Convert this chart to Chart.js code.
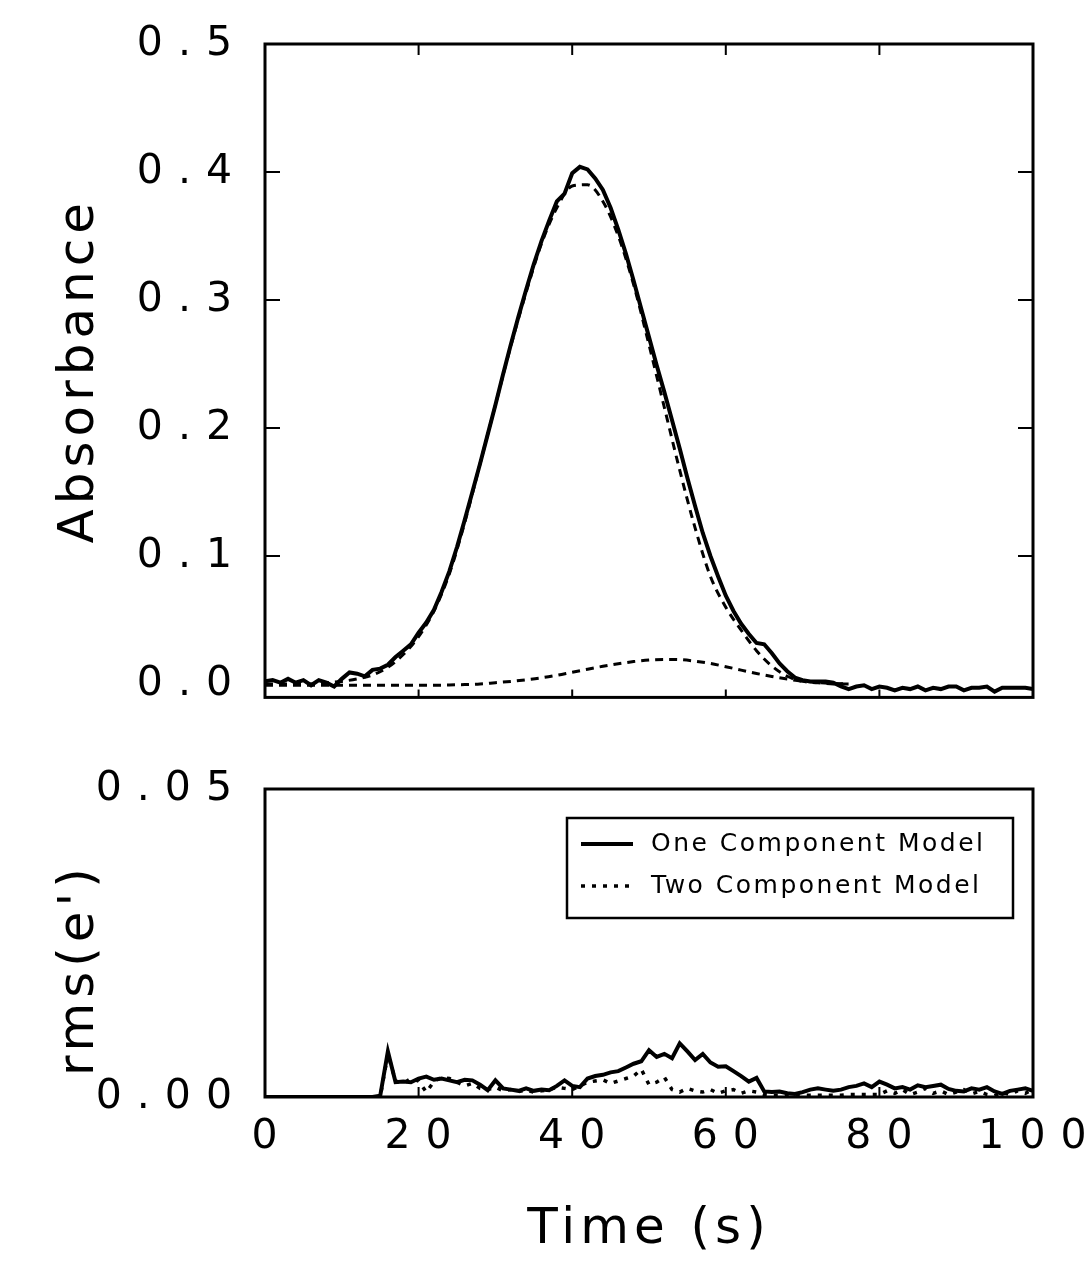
<!DOCTYPE html>
<html>
<head>
<meta charset="utf-8">
<title>Absorbance and rms residuals</title>
<script src="https://cdn.jsdelivr.net/npm/chart.js@4.4.1/dist/chart.umd.min.js"></script>
<style>
  html, body { margin: 0; padding: 0; background: #fff; }
  #wrap { position: relative; width: 1092px; height: 1279px; }
  #absChart { position: absolute; left: 0; top: 0; }
  #rmsChart { position: absolute; left: 0; top: 740px; }
</style>
</head>
<body>
<div id="wrap">
  <canvas id="absChart" width="1092" height="740"></canvas>
  <canvas id="rmsChart" width="1092" height="539"></canvas>
</div>
<script>
// time axes (s)
const timeFine = [0,1,2,3,4,5,6,7,8,9,10,11,12,13,14,15,16,17,18,19,20,21,22,23,24,25,26,27,28,29,30,
  31,32,33,34,35,36,37,38,39,40,41,42,43,44,45,46,47,48,49,50,51,52,53,54,55,56,57,58,59,60,
  61,62,63,64,65,66,67,68,69,70,71,72,73,74,75,76,77,78,79,80,81,82,83,84,85,86,87,88,89,90,
  91,92,93,94,95,96,97,98,99,100];
const timeFit = [0,2,4,6,8,10,12,14,16,18,20,22,24,26,28,30,32,34,36,38,40,42,44,46,48,50,
  52,54,56,58,60,62,64,66,68,70,72,74,76];

// measured absorbance (solid, top panel)
const absorbance = [0.002,0.003,0.001,0.004,0.001,0.003,-0.001,0.003,0.001,-0.002,0.004,
  0.009,0.008,0.006,0.011,0.012,0.015,0.021,0.026,0.031,0.040,
  0.048,0.058,0.072,0.088,0.107,0.128,0.150,0.172,0.195,0.218,
  0.242,0.265,0.287,0.308,0.328,0.346,0.362,0.377,0.383,0.399,
  0.404,0.402,0.395,0.386,0.372,0.355,0.336,0.315,0.293,0.271,
  0.249,0.228,0.206,0.184,0.161,0.139,0.118,0.100,0.084,0.069,
  0.057,0.047,0.039,0.032,0.031,0.024,0.016,0.010,0.005,0.003,
  0.002,0.002,0.002,0.001,-0.002,-0.004,-0.002,-0.001,-0.004,-0.002,
  -0.003,-0.005,-0.003,-0.004,-0.002,-0.005,-0.003,-0.004,-0.002,-0.002,
  -0.005,-0.003,-0.003,-0.002,-0.006,-0.003,-0.003,-0.003,-0.003,-0.004];

// fitted main component (dashed, top panel)
const mainFit = [0,0,0,0,0.001,0.002,0.004,0.007,0.013,0.023,0.037,0.057,0.086,0.126,0.172,
  0.218,0.264,0.306,0.344,0.372,0.389,0.390,0.377,0.350,0.312,0.265,0.216,0.167,0.122,
  0.084,0.060,0.042,0.026,0.014,0.006,0.002,0.001,0,0];

// second fitted component (dashed, top panel)
const secondComp = [-0.001,-0.001,-0.001,-0.001,-0.001,-0.001,-0.001,-0.001,-0.001,-0.001,-0.001,-0.001,
  -0.0008,-0.0005,0.0,0.001,0.002,0.0033,0.0048,0.0068,0.0092,0.0115,0.0138,0.0158,0.0175,
  0.0187,0.0192,0.019,0.0178,0.016,0.0135,0.0108,0.0082,0.0058,0.0038,0.0022,0.0011,0.0004,0.0];

// rms residuals (bottom panel)
const rmsOne = [0,0,0,0,0,0,0,0,0,0,0,0,0,0,0,0.0002,0.0074,0.0024,0.0025,0.0024,0.0030,
  0.0033,0.0028,0.0030,0.0027,0.0024,0.0028,0.0027,0.0020,0.0011,0.0027,
  0.0014,0.0012,0.0010,0.0014,0.0010,0.0012,0.0011,0.0018,0.0027,0.0018,
  0.0016,0.0030,0.0034,0.0036,0.0040,0.0042,0.0048,0.0054,0.0058,0.0076,
  0.0065,0.0070,0.0063,0.0087,0.0074,0.0060,0.0070,0.0056,0.0049,0.0050,
  0.0042,0.0034,0.0025,0.0031,0.0009,0.0008,0.0009,0.0006,0.0005,0.0008,
  0.0012,0.0014,0.0012,0.0010,0.0012,0.0016,0.0018,0.0022,0.0016,0.0025,
  0.0020,0.0014,0.0016,0.0012,0.0019,0.0016,0.0018,0.0020,0.0013,0.0010,
  0.0009,0.0014,0.0012,0.0016,0.0009,0.0005,0.0010,0.0012,0.0014,0.0010];
const rmsTwo = [0,0,0,0,0,0,0,0,0,0,0,0,0,0,0,0,0.0070,0.0026,0.0022,0.0030,0.0026,
  0.0008,0.0025,0.0032,0.0030,0.0024,0.0018,0.0022,0.0014,0.0012,0.0016,
  0.0010,0.0012,0.0009,0.0011,0.0008,0.0010,0.0012,0.0016,0.0014,0.0012,
  0.0018,0.0024,0.0026,0.0028,0.0022,0.0026,0.0030,0.0034,0.0045,0.0020,
  0.0024,0.0032,0.0012,0.0008,0.0014,0.0010,0.0008,0.0012,0.0006,0.0010,
  0.0012,0.0006,0.0010,0.0008,0.0004,0.0003,0.0003,0.0003,0.0003,0.0003,
  0.0003,0.0003,0.0003,0.0003,0.0003,0.0004,0.0004,0.0004,0.0004,0.0004,
  0.0010,0.0006,0.0012,0.0004,0.0008,0.0014,0.0006,0.0010,0.0004,0.0008,
  0.0012,0.0005,0.0009,0.0004,0.0002,0.0008,0.0004,0.0010,0.0006,0.0012];

const xTicks = [0, 20, 40, 60, 80, 100];
const absTicks = [0.0, 0.1, 0.2, 0.3, 0.4, 0.5];
const rmsTicks = [0.00, 0.05];
const seriesLabels = ['One Component Model', 'Two Component Model'];

const FONT = 'DejaVu Sans';
const pts = (xs, ys) => xs.map((x, i) => ({ x: x, y: ys[i] }));

// box frame, inward tick marks, letter spacing and boxed legend
const framePlugin = {
  id: 'frame',
  beforeDraw(chart) {
    chart.ctx.letterSpacing = '5px';
  },
  afterDatasetsDraw(chart) {
    chart.ctx.letterSpacing = '15px';
  },
  afterDraw(chart, args, opts) {
    const { ctx, chartArea: a, scales } = chart;
    ctx.save();
    ctx.strokeStyle = '#000';
    ctx.lineWidth = 3;
    ctx.strokeRect(a.left, a.top, a.width, a.height);
    ctx.lineWidth = 2;
    ctx.beginPath();
    (opts.xMarks || []).forEach(v => {
      const px = scales.x.getPixelForValue(v);
      ctx.moveTo(px, a.bottom); ctx.lineTo(px, a.bottom - opts.xLen);
      if (opts.topMarks) { ctx.moveTo(px, a.top); ctx.lineTo(px, a.top + opts.xLen + 3); }
    });
    (opts.yMarks || []).forEach(v => {
      const py = scales.y.getPixelForValue(v);
      ctx.moveTo(a.left, py); ctx.lineTo(a.left + 15, py);
      ctx.moveTo(a.right, py); ctx.lineTo(a.right - 15, py);
    });
    ctx.stroke();

    if (opts.legend) {
      const bx = a.right - 466, by = a.top + 29, bw = 446, bh = 100;
      ctx.lineWidth = 2.5;
      ctx.strokeRect(bx, by, bw, bh);
      ctx.font = '25px "' + FONT + '"';
      ctx.letterSpacing = '2.5px';
      ctx.textBaseline = 'middle';
      ctx.fillStyle = '#000';
      chart.data.datasets.forEach((ds, i) => {
        const ly = by + 26 + i * 42;
        ctx.lineWidth = ds.borderWidth;
        ctx.setLineDash(ds.borderDash || []);
        ctx.beginPath();
        ctx.moveTo(bx + 14, ly); ctx.lineTo(bx + 66, ly);
        ctx.stroke();
        ctx.setLineDash([]);
        ctx.fillText(ds.label, bx + 84, ly);
      });
    }
    ctx.restore();
  }
};

const xScaleBase = {
  type: 'linear',
  min: 0,
  max: 100,
  afterBuildTicks: s => { s.ticks = xTicks.map(v => ({ value: v })); },
  grid: { display: false, drawTicks: false },
  border: { display: false }
};

new Chart(document.getElementById('absChart'), {
  type: 'line',
  data: {
    datasets: [
      { label: 'Measured', data: pts(timeFine, absorbance), borderColor: '#000', borderWidth: 4,
        pointRadius: 0, tension: 0, order: 1 },
      { label: 'Fit', data: pts(timeFit, mainFit), borderColor: '#000', borderWidth: 3,
        borderDash: [8, 6], pointRadius: 0, cubicInterpolationMode: 'monotone', order: 2 },
      { label: 'Second component', data: pts(timeFit, secondComp), borderColor: '#000', borderWidth: 3,
        borderDash: [8, 6], pointRadius: 0, cubicInterpolationMode: 'monotone', order: 3 }
    ]
  },
  options: {
    responsive: false,
    animation: false,
    layout: { padding: { top: 44, right: 59, bottom: 22, left: 0 } },
    plugins: {
      legend: { display: false },
      tooltip: { enabled: false },
      frame: { xMarks: [20, 40, 60, 80], xLen: 8, topMarks: true, yMarks: [0.1, 0.2, 0.3, 0.4] }
    },
    scales: {
      x: Object.assign({}, xScaleBase, { display: false }),
      y: {
        type: 'linear',
        min: -0.0105,
        max: 0.5,
        afterBuildTicks: s => { s.ticks = absTicks.map(v => ({ value: v })); },
        afterFit: s => { s.width = 265; },
        grid: { display: false, drawTicks: false },
        border: { display: false },
        ticks: { z: 1, padding: 18, color: '#000', font: { family: FONT, size: 41 },
                 callback: v => v.toFixed(1) },
        title: { display: true, text: 'Absorbance', color: '#000', padding: { top: 50, bottom: 0 },
                 font: { family: FONT, size: 50 } }
      }
    }
  },
  plugins: [framePlugin]
});

new Chart(document.getElementById('rmsChart'), {
  type: 'line',
  data: {
    datasets: [
      { label: seriesLabels[0], data: pts(timeFine, rmsOne), borderColor: '#000', borderWidth: 4,
        pointRadius: 0, tension: 0 },
      { label: seriesLabels[1], data: pts(timeFine, rmsTwo), borderColor: '#000', borderWidth: 3.5,
        borderDash: [4, 7], pointRadius: 0, tension: 0 }
    ]
  },
  options: {
    responsive: false,
    animation: false,
    layout: { padding: { top: 49, right: 59, bottom: 0, left: 0 } },
    plugins: {
      legend: { display: false },
      tooltip: { enabled: false },
      frame: { xMarks: [20, 40, 60, 80], xLen: 10, topMarks: false, yMarks: [], legend: true }
    },
    scales: {
      x: Object.assign({}, xScaleBase, {
        afterFit: s => { s.height = 182; },
        ticks: { z: 1, padding: 16, labelOffset: 7, color: '#000', font: { family: FONT, size: 41 },
                 maxRotation: 0 },
        title: { display: true, text: 'Time (s)', color: '#000', padding: { top: 0, bottom: 19 },
                 font: { family: FONT, size: 50 } }
      }),
      y: {
        type: 'linear',
        min: 0,
        max: 0.05,
        afterBuildTicks: s => { s.ticks = rmsTicks.map(v => ({ value: v })); },
        afterFit: s => { s.width = 265; },
        grid: { display: false, drawTicks: false },
        border: { display: false },
        ticks: { z: 1, padding: 18, color: '#000', font: { family: FONT, size: 41 },
                 callback: v => v.toFixed(2) },
        title: { display: true, text: " rms(e')", align: 'start', color: '#000',
                 padding: { top: 50, bottom: 0 }, font: { family: FONT, size: 50 } }
      }
    }
  },
  plugins: [framePlugin]
});
</script>
</body>
</html>
